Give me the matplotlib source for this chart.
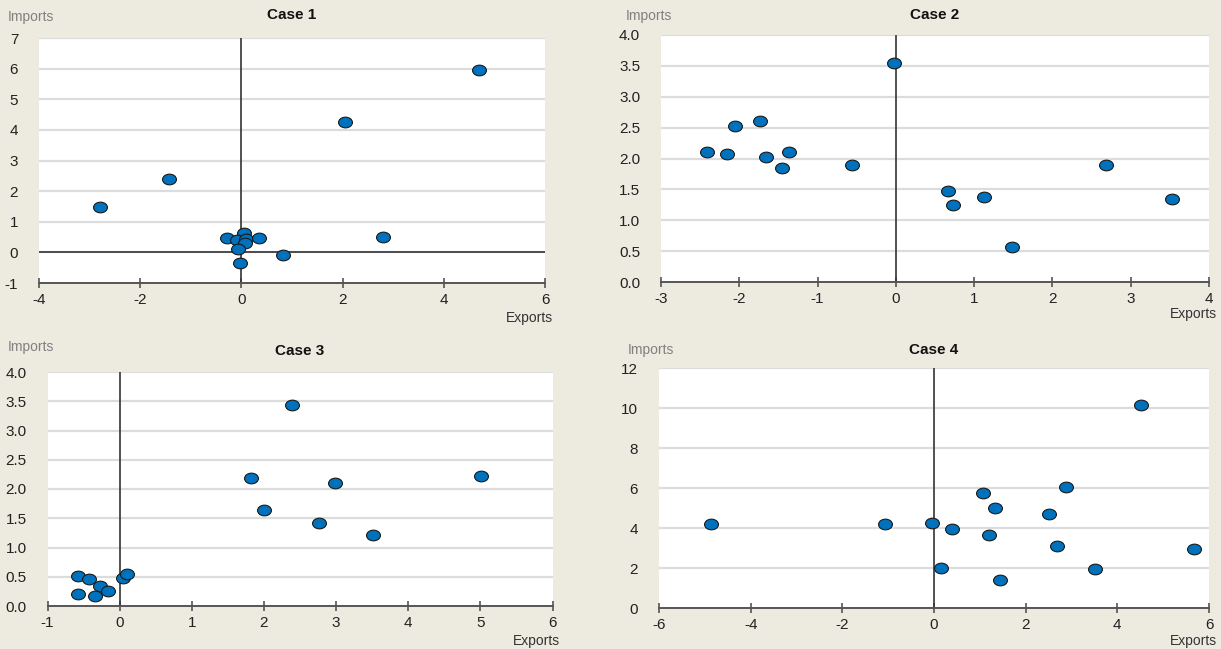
import matplotlib
matplotlib.use("Agg")
import matplotlib.pyplot as plt
from matplotlib.path import Path
from matplotlib.transforms import Affine2D

plt.rcParams['font.family'] = ['Liberation Sans', 'DejaVu Sans']
plt.rcParams['axes.unicode_minus'] = False

# Case 1
case1_x = [4.70, 2.05, -1.43, -2.79, 2.79, 0.82, -0.03, -0.28, 0.05, -0.08, 0.10, 0.08, 0.34, -0.06]
case1_y = [5.95, 4.27, 2.38, 1.49, 0.51, -0.10, -0.36, 0.48, 0.62, 0.42, 0.45, 0.32, 0.47, 0.10]

# Case 2
case2_x = [-0.03, -2.41, -2.16, -2.05, -1.73, -1.66, -1.37, -1.45, -0.56, 0.66, 0.73, 1.12, 1.48, 2.68, 3.53]
case2_y = [3.54, 2.11, 2.07, 2.53, 2.60, 2.03, 2.11, 1.85, 1.89, 1.48, 1.25, 1.37, 0.56, 1.89, 1.34]

# Case 3
case3_x = [2.39, 1.82, 2.98, 5.01, 2.00, 2.76, 3.51, -0.58, -0.43, -0.27, -0.16, -0.58, -0.34, 0.05, 0.10]
case3_y = [3.44, 2.18, 2.11, 2.23, 1.64, 1.42, 1.22, 0.51, 0.46, 0.35, 0.26, 0.21, 0.17, 0.48, 0.54]

# Case 4
case4_x = [4.52, -4.87, -1.07, -0.04, 0.39, 1.06, 1.32, 1.20, 2.87, 2.50, 2.69, 0.16, 1.43, 3.52, 5.67]
case4_y = [10.17, 4.22, 4.18, 4.27, 3.97, 5.75, 4.98, 3.63, 6.05, 4.72, 3.10, 1.98, 1.42, 1.93, 2.95]

titles = ["Case 1", "Case 2", "Case 3", "Case 4"]
xlims = [(-4, 6), (-3, 4), (-1, 6), (-6, 6)]
ylims = [(-1, 7), (0, 4), (0, 4), (0, 12)]
xticks = [range(-4, 7, 2), range(-3, 5), range(-1, 7), range(-6, 7, 2)]
yticks = [list(range(-1, 8)), [i * 0.5 for i in range(9)], [i * 0.5 for i in range(9)], list(range(0, 13, 2))]
yfmt = ["{:.0f}", "{:.1f}", "{:.1f}", "{:.0f}"]

W, H = 1221, 649
BG = '#EDEAE0'
# plot-area boxes in pixels: left, top, right, bottom
boxes = [(39, 38, 545, 283), (661, 35, 1209, 282), (47.5, 372, 552.5, 606), (659, 368, 1209, 608)]
# text anchors in pixels: title y, "Imports" (x, y), "Exports" y
title_y = [15, 15, 351, 350]
imports_xy = [(8, 17), (626, 16), (8, 347), (628, 350)]
exports_y = [318, 314, 641, 641]

# slightly flattened ellipse marker
ellipse = Path.unit_circle().transformed(Affine2D().scale(1.3, 1.0))

fig = plt.figure(figsize=(W / 100, H / 100), dpi=100, facecolor=BG)

data = [(case1_x, case1_y), (case2_x, case2_y), (case3_x, case3_y), (case4_x, case4_y)]
for i, (xs, ys) in enumerate(data):
    l, t, r, b = boxes[i]
    ax = fig.add_axes([l / W, 1 - b / H, (r - l) / W, (b - t) / H])
    ax.set_facecolor('white')
    ax.set_xlim(*xlims[i])
    ax.set_ylim(*ylims[i])
    ax.set_xticks(list(xticks[i]))
    ax.set_yticks(yticks[i])
    ax.set_yticklabels([yfmt[i].format(v) for v in yticks[i]])
    for v in yticks[i][1:]:
        ax.axhline(v, color='#DCDCDC', lw=1.6, zorder=1)
    for s in ['top', 'right', 'left']:
        ax.spines[s].set_visible(False)
    ax.spines['bottom'].set_color('#555555')
    ax.spines['bottom'].set_linewidth(1.4)
    ax.tick_params(axis='x', direction='inout', length=7, width=1.2, color='#555555',
                   labelsize=11, pad=4, labelcolor='#222222')
    ax.tick_params(axis='y', length=0, labelsize=11, pad=15, labelcolor='#222222')
    ax.axvline(0, color='#333333', lw=1.2, zorder=2)
    if ylims[i][0] < 0:
        ax.axhline(0, color='#333333', lw=1.2, zorder=2)
    ax.scatter(xs, ys, marker=ellipse, s=100, facecolor='#0071BC', edgecolor='#1A1A1A',
               linewidths=0.8, zorder=3, clip_on=False)

    fig.text((l + r) / 2 / W, 1 - title_y[i] / H, titles[i], ha='center', va='center',
             fontsize=11, fontweight='bold', color='#111111')
    fig.text(imports_xy[i][0] / W, 1 - imports_xy[i][1] / H, "Imports", ha='left',
             va='center', fontsize=10, color='#808080')
    fig.text((r + 8) / W, 1 - exports_y[i] / H, "Exports", ha='right', va='center',
             fontsize=10, color='#333333')

fig.savefig('out.png', dpi=100, facecolor=BG)
